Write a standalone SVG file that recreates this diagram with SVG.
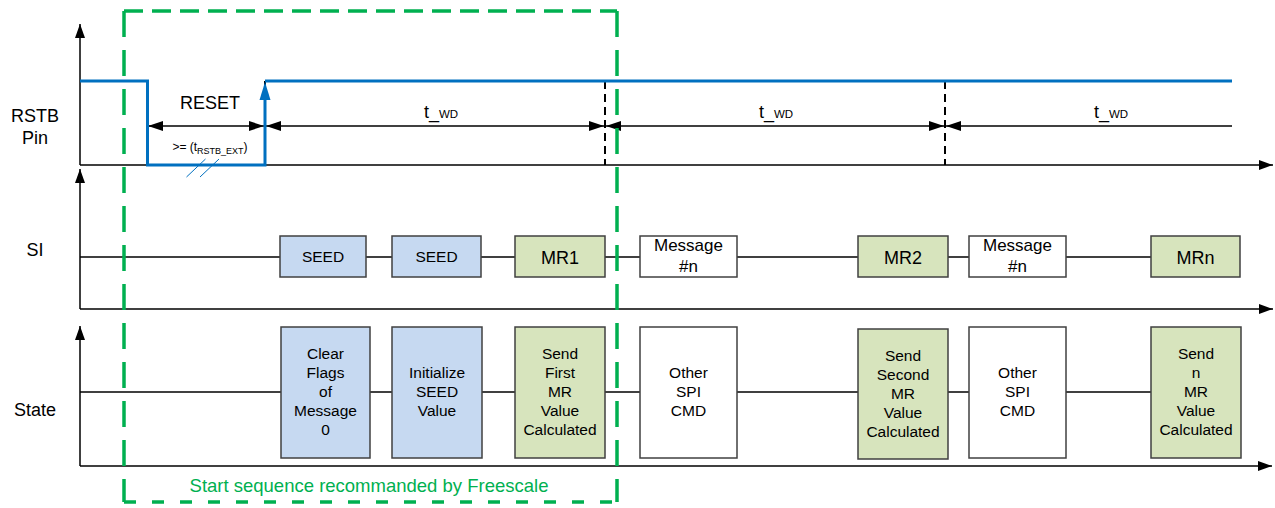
<svg xmlns="http://www.w3.org/2000/svg" width="1275" height="508" viewBox="0 0 1275 508">
<style>
text{font-family:"Liberation Sans",Arial,sans-serif;fill:#000;text-anchor:middle}
.lbl{font-size:18px}
.box{stroke:#404040;stroke-width:1.5}
.blue{fill:#C6D9F1}
.grn{fill:#D7E4BD}
.wht{fill:#fff}
.st{font-size:15.5px}
.ax{stroke:#000;stroke-width:1.5;fill:none}
.dim{stroke:#000;stroke-width:1.3;fill:none}
.dash{stroke:#000;stroke-width:2;stroke-dasharray:8 5;fill:none}
.sig{stroke:#0070C0;stroke-width:3;fill:none}
.fr{stroke:#00B050;stroke-width:3.5;fill:none}
</style>
<defs>
<marker id="ax" viewBox="0 0 10 10" refX="10" refY="5" markerWidth="14" markerHeight="10" markerUnits="userSpaceOnUse" preserveAspectRatio="none" orient="auto-start-reverse"><path d="M0,0 L10,5 L0,10 z" fill="#000"/></marker>
<marker id="dm" viewBox="0 0 10 10" refX="10" refY="5" markerWidth="15" markerHeight="10" markerUnits="userSpaceOnUse" preserveAspectRatio="none" orient="auto-start-reverse"><path d="M0,0 L10,5 L0,10 z" fill="#000"/></marker>
</defs>
<rect width="1275" height="508" fill="#fff"/>

<g id="labels">
<text class="lbl" x="35" y="122">RSTB</text>
<text class="lbl" x="35" y="144">Pin</text>
<text class="lbl" x="35" y="256">SI</text>
<text class="lbl" x="35" y="416">State</text>
</g>

<g id="connectors">
<!-- axes -->
<line class="ax" x1="80" y1="165" x2="80" y2="24" marker-end="url(#ax)"/>
<line class="ax" x1="80" y1="165" x2="1273" y2="165" marker-end="url(#ax)"/>
<line class="ax" x1="80" y1="309" x2="80" y2="169" marker-end="url(#ax)"/>
<line class="ax" x1="80" y1="309" x2="1273" y2="309" marker-end="url(#ax)"/>
<line class="ax" x1="80" y1="466" x2="80" y2="326" marker-end="url(#ax)"/>
<line class="ax" x1="80" y1="466" x2="1272" y2="466" marker-end="url(#ax)"/>
<!-- SI and State lines -->
<line class="ax" x1="80" y1="257" x2="1152" y2="257"/>
<line class="ax" x1="80" y1="392" x2="1152" y2="392"/>
<!-- dashed markers -->
<line class="dash" x1="265" y1="81" x2="265" y2="165"/>
<line class="dash" x1="605" y1="81" x2="605" y2="165"/>
<line class="dash" x1="945" y1="81" x2="945" y2="165"/>
<!-- dimension lines -->
<line class="dim" x1="148" y1="126" x2="264" y2="126" marker-start="url(#dm)" marker-end="url(#dm)"/>
<line class="dim" x1="266" y1="126" x2="604" y2="126" marker-start="url(#dm)" marker-end="url(#dm)"/>
<line class="dim" x1="606" y1="126" x2="944" y2="126" marker-start="url(#dm)" marker-end="url(#dm)"/>
<line class="dim" x1="946" y1="126" x2="1232" y2="126" marker-start="url(#dm)"/>
<!-- RSTB signal -->
<polyline class="sig" points="80,81 147.5,81 147.5,165 265,165 265,99"/>
<path d="M265,82 L259.5,100 L270.5,100 z" fill="#0070C0"/>
<line class="sig" x1="265" y1="81" x2="1232" y2="81"/>
<line x1="186.5" y1="177" x2="205.5" y2="159" stroke="#0070C0" stroke-width="1"/>
<line x1="200" y1="177" x2="219" y2="159" stroke="#0070C0" stroke-width="1"/>
</g>

<g id="timing-text">
<text class="lbl" x="210" y="109">RESET</text>
<text x="210" y="151" style="font-size:12px">&gt;= (t<tspan style="font-size:9px" dy="3">RSTB_EXT</tspan><tspan dy="-3">)</tspan></text>
<text x="441" y="118" style="font-size:18px">t_<tspan style="font-size:11.5px">WD</tspan></text>
<text x="776" y="118" style="font-size:18px">t_<tspan style="font-size:11.5px">WD</tspan></text>
<text x="1111" y="118" style="font-size:18px">t_<tspan style="font-size:11.5px">WD</tspan></text>
</g>

<g id="si-seed1"><rect class="box blue" x="280" y="236" width="86" height="41"/><text x="323" y="262" style="font-size:15.5px">SEED</text></g>
<g id="si-seed2"><rect class="box blue" x="392" y="236" width="89" height="41"/><text x="436.5" y="262" style="font-size:15.5px">SEED</text></g>
<g id="si-mr1"><rect class="box grn" x="515" y="236" width="90" height="41"/><text x="560" y="263.5" style="font-size:18px">MR1</text></g>
<g id="si-msg1"><rect class="box wht" x="640" y="236" width="97" height="41"/><text x="688.5" y="250.5" style="font-size:17px">Message</text><text x="688.5" y="271.5" style="font-size:17px">#n</text></g>
<g id="si-mr2"><rect class="box grn" x="858" y="236" width="90" height="41"/><text x="903" y="263.5" style="font-size:18px">MR2</text></g>
<g id="si-msg2"><rect class="box wht" x="969" y="236" width="97" height="41"/><text x="1017.5" y="250.5" style="font-size:17px">Message</text><text x="1017.5" y="271.5" style="font-size:17px">#n</text></g>
<g id="si-mrn"><rect class="box grn" x="1151" y="236" width="89" height="41"/><text x="1195.5" y="263.5" style="font-size:18px">MRn</text></g>

<g id="st-clear"><rect class="box blue" x="281" y="327" width="89" height="131"/>
<text class="st" x="325.5" y="359">Clear</text><text class="st" x="325.5" y="378">Flags</text><text class="st" x="325.5" y="397">of</text><text class="st" x="325.5" y="416">Message</text><text class="st" x="325.5" y="435">0</text></g>
<g id="st-init"><rect class="box blue" x="392" y="327" width="90" height="131"/>
<text class="st" x="437" y="378">Initialize</text><text class="st" x="437" y="397">SEED</text><text class="st" x="437" y="416">Value</text></g>
<g id="st-first"><rect class="box grn" x="515" y="327" width="90" height="131"/>
<text class="st" x="560" y="359">Send</text><text class="st" x="560" y="378">First</text><text class="st" x="560" y="397">MR</text><text class="st" x="560" y="416">Value</text><text class="st" x="560" y="435">Calculated</text></g>
<g id="st-other1"><rect class="box wht" x="640" y="327" width="97" height="131"/>
<text class="st" x="688.5" y="378">Other</text><text class="st" x="688.5" y="397">SPI</text><text class="st" x="688.5" y="416">CMD</text></g>
<g id="st-second"><rect class="box grn" x="858" y="329" width="90" height="130"/>
<text class="st" x="903" y="361">Send</text><text class="st" x="903" y="380">Second</text><text class="st" x="903" y="399">MR</text><text class="st" x="903" y="418">Value</text><text class="st" x="903" y="437">Calculated</text></g>
<g id="st-other2"><rect class="box wht" x="969" y="327" width="97" height="131"/>
<text class="st" x="1017.5" y="378">Other</text><text class="st" x="1017.5" y="397">SPI</text><text class="st" x="1017.5" y="416">CMD</text></g>
<g id="st-n"><rect class="box grn" x="1151" y="327" width="90" height="131"/>
<text class="st" x="1196" y="359">Send</text><text class="st" x="1196" y="378">n</text><text class="st" x="1196" y="397">MR</text><text class="st" x="1196" y="416">Value</text><text class="st" x="1196" y="435">Calculated</text></g>

<g id="start-sequence-frame">
<line class="fr" x1="124" y1="11" x2="617" y2="11" stroke-dasharray="19 9"/>
<line class="fr" x1="124" y1="11" x2="124" y2="502" stroke-dasharray="26 13"/>
<line class="fr" x1="617" y1="11" x2="617" y2="502" stroke-dasharray="26 13"/>
<line class="fr" x1="124" y1="502" x2="617" y2="502" stroke-dasharray="12 16"/>
<text x="369" y="492" style="font-size:18.5px;fill:#00B050">Start sequence recommanded by Freescale</text>
</g>
</svg>
